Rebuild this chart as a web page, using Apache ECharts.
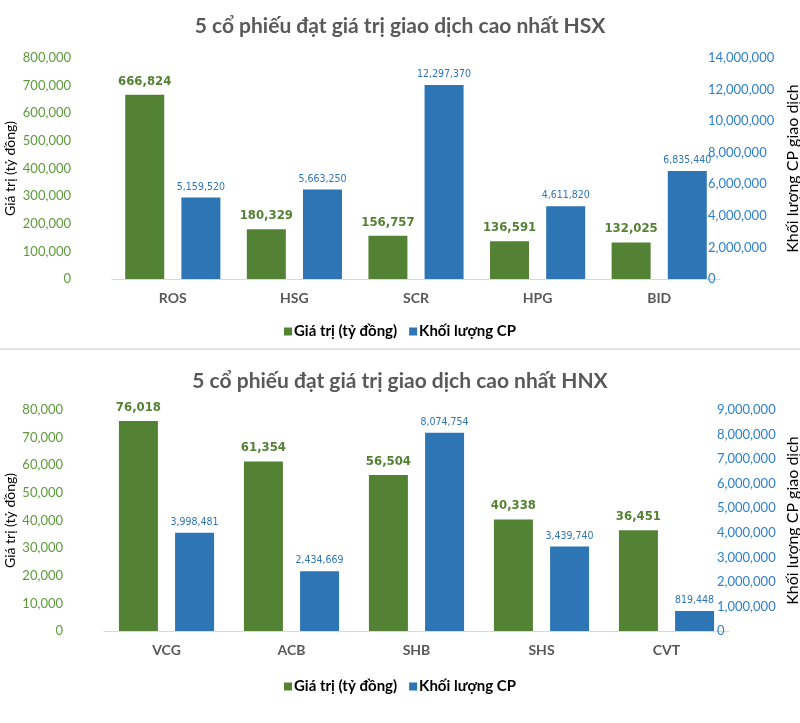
<!DOCTYPE html>
<html>
<head>
<meta charset="utf-8">
<script src="https://cdn.jsdelivr.net/npm/echarts@6/dist/echarts.min.js"></script>
<style>
html,body{margin:0;padding:0;background:#fff;}
#c{width:800px;height:723px;}
</style>
</head>
<body>
<div id="c"></div>
<script>
// ---- Data ----
const titleHSX = '5 cổ phiếu đạt giá trị giao dịch cao nhất HSX';
const titleHNX = '5 cổ phiếu đạt giá trị giao dịch cao nhất HNX';
const seriesNames = ['Giá trị (tỷ đồng)', 'Khối lượng CP'];
const leftAxisName = 'Giá trị (tỷ đồng)';
const rightAxisName = 'Khối lượng CP giao dịch';

const hsxCategories = ['ROS', 'HSG', 'SCR', 'HPG', 'BID'];
const hsxValue = [666824, 180329, 156757, 136591, 132025];
const hsxVolume = [5159520, 5663250, 12297370, 4611820, 6835440];

const hnxCategories = ['VCG', 'ACB', 'SHB', 'SHS', 'CVT'];
const hnxValue = [76018, 61354, 56504, 40338, 36451];
const hnxVolume = [3998481, 2434669, 8074754, 3439740, 819448];

// axis ranges
const hsxLeftMax = 800000, hsxLeftStep = 100000;
const hsxRightMax = 14000000, hsxRightStep = 2000000;
const hnxLeftMax = 80000, hnxLeftStep = 10000;
const hnxRightMax = 9000000, hnxRightStep = 1000000;

// ---- Styles ----
const GREEN = '#548235';
const BLUE = '#2E75B6';
const GREEN_TICK = '#5E9A3C';
const BLUE_TICK = '#2F80CC';
const GRAY = '#595959';
const NARROW = "'DejaVu Sans Condensed', 'DejaVu Sans', sans-serif";
const fmt = v => Number(v).toLocaleString('en-US');

const chart = echarts.init(document.getElementById('c'), null, {renderer: 'canvas'});

function titleObj(text, top) {
  return {
    text: text, left: 'center', top: top,
    textStyle: {fontFamily: 'Lato', fontWeight: 'bold', fontSize: 21, color: GRAY}
  };
}
function legendObj(top) {
  return {
    data: seriesNames, top: top, left: 'center', icon: 'rect',
    itemWidth: 8, itemHeight: 8, itemGap: 12,
    textStyle: {fontFamily: 'Lato', fontWeight: 'bold', fontSize: 15, color: '#000', padding: [0, 0, 0, -3]}
  };
}
function xAxisObj(gridIndex, cats) {
  return {
    type: 'category', gridIndex: gridIndex, data: cats,
    axisLine: {lineStyle: {color: '#D9D9D9', width: 1}},
    axisTick: {show: false},
    axisLabel: {margin: 12, fontFamily: 'Lato', fontWeight: 'bold', fontSize: 14, color: GRAY}
  };
}
function leftY(gridIndex, max, step, gap) {
  return {
    type: 'value', gridIndex: gridIndex, position: 'left', min: 0, max: max, interval: step,
    name: leftAxisName, nameLocation: 'middle', nameRotate: 90, nameGap: gap, nameMoveOverlap: false,
    nameTextStyle: {fontFamily: 'Lato', fontSize: 14, color: '#000'},
    splitLine: {show: false}, axisLine: {show: false}, axisTick: {show: false},
    axisLabel: {margin: 41, fontFamily: 'Lato', fontSize: 13, color: GREEN_TICK, formatter: fmt}
  };
}
function rightY(gridIndex, max, step, gap) {
  return {
    type: 'value', gridIndex: gridIndex, position: 'right', offset: -16, min: 0, max: max, interval: step,
    name: rightAxisName, nameLocation: 'middle', nameRotate: 90, nameGap: gap, nameMoveOverlap: false,
    nameTextStyle: {fontFamily: 'Lato', fontSize: 16, color: '#000'},
    splitLine: {show: false}, axisLine: {show: false}, axisTick: {show: false},
    axisLabel: {margin: 4, fontFamily: 'Lato', fontSize: 13, color: BLUE_TICK, formatter: fmt}
  };
}
function greenSeries(x, y, data) {
  return {
    name: seriesNames[0], type: 'bar', xAxisIndex: x, yAxisIndex: y, data: data,
    barWidth: 39, barGap: '44%',
    itemStyle: {color: GREEN},
    label: {show: true, position: 'top', distance: 7, formatter: p => fmt(p.value),
      fontFamily: NARROW, fontWeight: 'bold', fontSize: 13, color: GREEN}
  };
}
function blueSeries(x, y, data) {
  return {
    name: seriesNames[1], type: 'bar', xAxisIndex: x, yAxisIndex: y, data: data,
    barWidth: 39, barGap: '44%',
    itemStyle: {color: BLUE},
    label: {show: true, position: 'top', distance: 5, formatter: p => fmt(p.value),
      fontFamily: NARROW, fontSize: 10.5, color: BLUE}
  };
}

const option = {
  backgroundColor: '#fff',
  animation: false,
  title: [titleObj(titleHSX, 11), titleObj(titleHNX, 366)],
  legend: [legendObj(319), legendObj(674)],
  grid: [
    {left: 112, right: 80, top: 58, height: 221, outerBoundsMode: 'none', containLabel: false},
    {left: 104, right: 71, top: 410, height: 221, outerBoundsMode: 'none', containLabel: false}
  ],
  xAxis: [xAxisObj(0, hsxCategories), xAxisObj(1, hnxCategories)],
  yAxis: [
    leftY(0, hsxLeftMax, hsxLeftStep, 95),
    rightY(0, hsxRightMax, hsxRightStep, 81),
    leftY(1, hnxLeftMax, hnxLeftStep, 87),
    rightY(1, hnxRightMax, hnxRightStep, 72)
  ],
  series: [
    greenSeries(0, 0, hsxValue),
    blueSeries(0, 1, hsxVolume),
    greenSeries(1, 2, hnxValue),
    blueSeries(1, 3, hnxVolume)
  ],
  graphic: [{
    type: 'rect', left: 0, top: 348, shape: {width: 800, height: 2},
    style: {fill: '#E3E3E3'}, silent: true
  }]
};
chart.setOption(option);
</script>
</body>
</html>
